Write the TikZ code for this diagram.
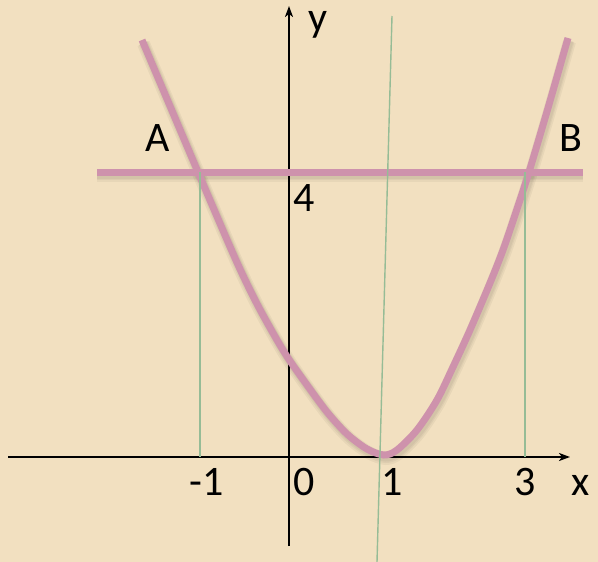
\documentclass[tikz,border=0pt]{standalone}
\usepackage{fontspec}
\setmainfont{Carlito}
\usetikzlibrary{arrows.meta}
\definecolor{bgc}{RGB}{242,224,192}
\definecolor{pinkc}{RGB}{206,146,172}
\definecolor{greenc}{RGB}{150,188,150}
\tikzset{
  axis/.style={line width=2pt, draw=black, -{Stealth[length=11pt,width=8pt,inset=3pt]}},
  curve/.style={line width=7pt, draw=pinkc},
  guide/.style={line width=1.4pt, draw=greenc},
  lbl/.style={font=\fontsize{42}{42}\selectfont, inner sep=0pt, anchor=base}
}
\def\parpts{(142,40) (170,106) (198,172) (235,258) (255,300) (273,333) (288,358) (307,385) (327,412) (347,434) (367,449) (384,455) (397,450) (417,430) (437,400) (453,367) (470,330) (490,283) (503,250) (516,212) (529,172) (548,108) (568,38)}
\begin{document}
\begin{tikzpicture}[x=1pt,y=-1pt]
\useasboundingbox (0,0) rectangle (598,562);
\fill[bgc] (0,0) rectangle (598,562);
% axes
\coordinate (xs) at (8,457);
\coordinate (xe) at (570,457);
\coordinate (ys) at (289,546);
\coordinate (ye) at (289,6);
\draw[axis] (xs) -- (xe);
\draw[axis] (ys) -- (ye);
% shadows
\foreach \d/\w in {3.5/13,3/10,2.5/8}{
  \draw[line width=\w pt, draw=black, opacity=0.045, shift={(1.5,\d)}]
    plot[smooth, tension=0.5] coordinates {\parpts};
  \draw[line width=\w pt, draw=black, opacity=0.045, shift={(0,\d)}] (97,172) -- (583,172);
}
% parabola
\draw[curve] plot[smooth, tension=0.5] coordinates {\parpts};
% line y=4
\coordinate (h0) at (97,172);
\coordinate (h1) at (583,172);
\draw[curve] (h0) -- (h1);
% guides
\coordinate (ga) at (200,172);
\coordinate (gab) at (200,457);
\coordinate (gb) at (525,172);
\coordinate (gbb) at (525,457);
\coordinate (gt) at (392,16);
\coordinate (gbt) at (377,562);
\draw[guide] (ga) -- (gab);
\draw[guide] (gb) -- (gbb);
\draw[guide] (gt) -- (gbt);
% labels
\node[lbl] (ly) at (318,31) {y};
\node[lbl] (lA) at (158,151) {A};
\node[lbl] (lB) at (571,151) {B};
\node[lbl] (l4) at (304,211) {4};
\node[lbl] (lm1) at (207,495) {-1};
\node[lbl] (l0) at (304,495) {0};
\node[lbl] (l1) at (392,495) {1};
\node[lbl] (l3) at (525,495) {3};
\node[lbl] (lx) at (581,495) {x};
\end{tikzpicture}
\end{document}
